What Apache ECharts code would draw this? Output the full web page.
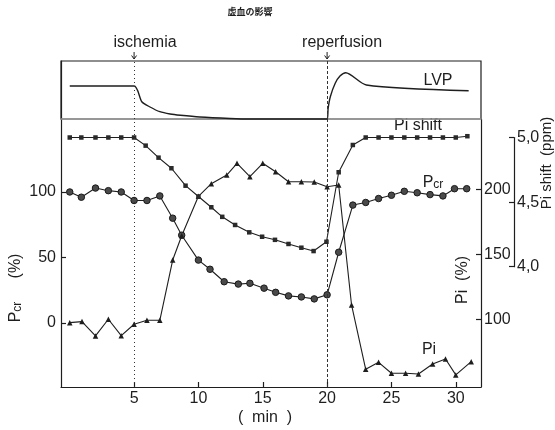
<!DOCTYPE html>
<html><head><meta charset="utf-8">
<script src="https://cdn.jsdelivr.net/npm/echarts@6/dist/echarts.min.js"></script>
<style>html,body{margin:0;padding:0;background:#fff}#c{width:555px;height:430px}</style>
</head><body><div id="c"></div>
<script>
// ---- data ----
const chartTitle = '虚血の影響';
const xTicks = [5, 10, 15, 20, 25, 30];
const pcrTicks = [0, 50, 100];
const piTicks = [100, 150, 200];
const eventTimes = [5, 20];
const eventLabels = ['ischemia', 'reperfusion'];

const lvpTime  = [0, 5, 5.6, 6.24, 7.0, 7.8, 8.6, 10.1, 12.45, 14, 20, 20.08, 20.25, 20.63, 21.0, 21.45, 23.05, 31.0];
const lvpValue = [56.9, 56.9, 29.8, 20.7, 12.6, 8.6, 6.4, 3.4, 0.9, 0, 0, 18.4, 38.4, 61.6, 74.1, 79.8, 58.6, 48.8];

const pcrTime  = [0, 0.9, 2, 3, 4, 5, 6, 7, 8, 8.7, 10, 10.9, 12, 13.1, 14, 15.1, 16, 17, 18, 19, 20, 20.9, 22, 23, 24, 25, 26, 27, 28, 29, 29.9, 30.85];
const pcrValue = [100, 96, 103, 101, 100, 93.5, 93.5, 97, 80, 67, 48, 41, 31.5, 29.7, 30.3, 26.6, 23.4, 20.7, 19.9, 18.4, 21.5, 54, 90, 92, 95, 97.5, 100.5, 99.4, 98, 97, 102.5, 102.5];

const piTime  = [0, 0.95, 2, 3, 4, 5, 6, 7, 8, 8.7, 10, 11, 12.2, 13, 14, 15, 16, 17, 18, 19, 20, 20.9, 21.9, 23, 24, 25, 26.1, 27.1, 28.2, 29.2, 30, 31.2];
const piValue = [97.4, 98.2, 87.2, 100, 87.4, 96.2, 99.2, 99.2, 145.6, 164.3, 194.6, 204.3, 211, 220, 209.7, 220, 213.5, 205.8, 205.8, 205.6, 202, 203.3, 111, 61.5, 66.9, 58.5, 58.5, 57.9, 65.6, 69.5, 57.2, 67.4];

const shiftTime  = [0, 0.9, 2, 3, 4, 5, 5.9, 6.9, 7.9, 9, 10, 11, 11.85, 12.85, 13.95, 14.95, 15.95, 17, 18, 18.95, 19.95, 20.9, 22, 23, 24, 25, 26, 27, 28, 29, 30, 30.9];
const shiftValue = [5.0, 5.0, 5.0, 5.0, 5.0, 5.0, 4.937, 4.844, 4.762, 4.627, 4.543, 4.46, 4.386, 4.323, 4.266, 4.232, 4.208, 4.176, 4.147, 4.121, 4.193, 4.731, 4.942, 5.0, 5.0, 5.0, 5.0, 5.0, 5.0, 5.0, 5.0, 5.01];

// ---- chart ----
const FONT = 'Liberation Sans';
const INK = '#1e1e1e';
const X_MIN = -0.68, X_MAX = 31.96;
const zip = (a, b) => a.map((t, i) => [t, b[i]]);

const chart = echarts.init(document.getElementById('c'), null, {renderer: 'canvas'});

const hiddenX = (grid, pos, line) => ({
  type: 'value', gridIndex: grid, min: X_MIN, max: X_MAX, position: pos,
  axisLine: {show: !!line, onZero: false, lineStyle: line || {}}, axisTick: {show: false},
  axisLabel: {show: false}, splitLine: {show: false}
});
const frameY = (grid, pos) => ({
  type: 'value', gridIndex: grid, min: 0, max: 100, position: pos,
  axisLine: {show: true, onZero: false, lineStyle: {color: INK, width: 1.2}},
  axisTick: {show: false}, axisLabel: {show: false}, splitLine: {show: false}
});
const labelStyle = {color: INK, fontFamily: FONT, fontSize: 16};

const markStyle = [
  {type: [1, 3], color: '#333', width: 1},
  {type: [3, 2], color: '#333', width: 1}
];
const eventMarks = {
  silent: true, symbol: 'none', label: {show: false},
  data: eventTimes.map((t, i) => ({xAxis: t, lineStyle: markStyle[i]}))
};

chart.setOption({
  animation: false,
  backgroundColor: '#fff',
  grid: [
    {left: 61, right: 74, top: 61, height: 58, outerBoundsMode: 'none',
     show: true, borderColor: INK, borderWidth: 1.2, backgroundColor: 'transparent'},
    {left: 61, right: 74, top: 119, height: 268, outerBoundsMode: 'none'},
    {left: 61, right: 74, top: 137.5, height: 129.2, outerBoundsMode: 'none'}
  ],
  xAxis: [
    hiddenX(0, 'bottom', {color: '#9a9a9a', width: 1.6}),
    {
      type: 'value', gridIndex: 1, min: X_MIN, max: X_MAX, position: 'bottom',
      axisLine: {show: true, onZero: false, lineStyle: {color: INK, width: 1.2}},
      axisTick: {show: true, inside: true, length: 5, customValues: xTicks, lineStyle: {color: INK, width: 1.2}},
      axisLabel: Object.assign({margin: 4, customValues: xTicks}, labelStyle),
      splitLine: {show: false}
    },
    hiddenX(2, 'bottom', null)
  ],
  yAxis: [
    frameY(0, 'left'),
    {
      type: 'value', gridIndex: 1, min: -48.85, max: 155.7, position: 'left',
      axisLine: {show: true, onZero: false, lineStyle: {color: INK, width: 1.2}},
      axisTick: {show: true, inside: true, length: 5, customValues: pcrTicks, lineStyle: {color: INK, width: 1.2}},
      axisLabel: Object.assign({margin: 5, customValues: pcrTicks}, labelStyle),
      splitLine: {show: false}
    },
    {
      type: 'value', gridIndex: 1, min: 47.9, max: 254.1, position: 'right',
      axisLine: {show: true, onZero: false, lineStyle: {color: INK, width: 1.2}},
      axisTick: {show: true, inside: true, length: 5, customValues: piTicks, lineStyle: {color: INK, width: 1.2}},
      axisLabel: Object.assign({margin: 3, customValues: piTicks}, labelStyle),
      splitLine: {show: false}
    },
    {
      type: 'value', gridIndex: 2, min: 4.0, max: 5.0, interval: 0.5, position: 'right', offset: 33,
      axisLine: {show: true, onZero: false, lineStyle: {color: INK, width: 1.2}},
      axisTick: {show: true, inside: true, length: 5, lineStyle: {color: INK, width: 1.2}},
      axisLabel: Object.assign({margin: 3, formatter: v => v.toFixed(1).replace('.', ',')}, labelStyle),
      splitLine: {show: false}
    }
  ],
  series: [
    {
      name: 'LVP', type: 'line', xAxisIndex: 0, yAxisIndex: 0, data: zip(lvpTime, lvpValue),
      showSymbol: false, smooth: 0.25, clip: false,
      lineStyle: {color: INK, width: 1.4}, markLine: eventMarks
    },
    {
      name: 'Pcr', type: 'line', xAxisIndex: 1, yAxisIndex: 1, data: zip(pcrTime, pcrValue),
      symbol: 'circle', symbolSize: 6.5, clip: false,
      itemStyle: {color: '#4a4a4a', borderColor: '#1a1a1a', borderWidth: 1},
      lineStyle: {color: INK, width: 1.1}, markLine: eventMarks
    },
    {
      name: 'Pi', type: 'line', xAxisIndex: 1, yAxisIndex: 2, data: zip(piTime, piValue),
      symbol: 'triangle', symbolSize: 5.5, clip: false,
      itemStyle: {color: INK}, lineStyle: {color: INK, width: 1.1}
    },
    {
      name: 'Pi shift', type: 'line', xAxisIndex: 2, yAxisIndex: 3, data: zip(shiftTime, shiftValue),
      symbol: 'rect', symbolSize: 4.5, clip: false,
      itemStyle: {color: '#2a2a2a'}, lineStyle: {color: INK, width: 1.1}
    }
  ]
});

// ---- annotations (positions from the library's scales) ----
const gx = v => chart.convertToPixel({xAxisIndex: 1}, v);
const txt = (x, y, text, extra) => ({
  type: 'text', x: x, y: y, silent: true,
  style: Object.assign({text: text, fill: INK, font: '16px "' + FONT + '"', align: 'center', verticalAlign: 'middle'}, extra || {})
});
const g = [];
g.push(txt(250, 12, chartTitle, {font: 'bold 9px "Noto Sans CJK JP"'}));
const labelOffsets = [11, 15];
eventTimes.forEach((t, i) => {
  const x = gx(t);
  g.push(txt(x + labelOffsets[i], 43, eventLabels[i]));
  g.push({type: 'line', silent: true, shape: {x1: x, y1: 52, x2: x, y2: 59}, style: {stroke: INK, lineWidth: 1}});
  g.push({type: 'polyline', silent: true, shape: {points: [[x - 2.5, 55.5], [x, 59], [x + 2.5, 55.5]]}, style: {stroke: INK, lineWidth: 1, fill: null}});
});
g.push(txt(438, 81, 'LVP'));
g.push(txt(418, 126, 'Pi shift'));
g.push({
  type: 'text', x: 433, y: 183, silent: true,
  style: {text: '{a|P}{b|cr}', align: 'center', verticalAlign: 'middle',
    rich: {a: {fontSize: 16, fontFamily: FONT, fill: INK}, b: {fontSize: 12, fontFamily: FONT, fill: INK, verticalAlign: 'bottom'}}}
});
g.push(txt(429, 350, 'Pi'));
// axis titles
g.push({
  type: 'text', x: 16, y: 312, rotation: Math.PI / 2, silent: true,
  style: {text: '{a|P}{b|cr}', align: 'center', verticalAlign: 'middle',
    rich: {a: {fontSize: 16, fontFamily: FONT, fill: INK}, b: {fontSize: 12, fontFamily: FONT, fill: INK, verticalAlign: 'bottom'}}}
});
g.push(Object.assign(txt(16, 266, '(%)'), {rotation: Math.PI / 2}));
g.push(Object.assign(txt(463, 280, 'Pi  (%)'), {rotation: Math.PI / 2}));
g.push(Object.assign(txt(547, 163, 'Pi shift  (ppm)', {font: '15px "' + FONT + '"'}), {rotation: Math.PI / 2}));
g.push(txt(265, 418, '(  min  )'));
chart.setOption({graphic: g});
</script>
</body></html>
